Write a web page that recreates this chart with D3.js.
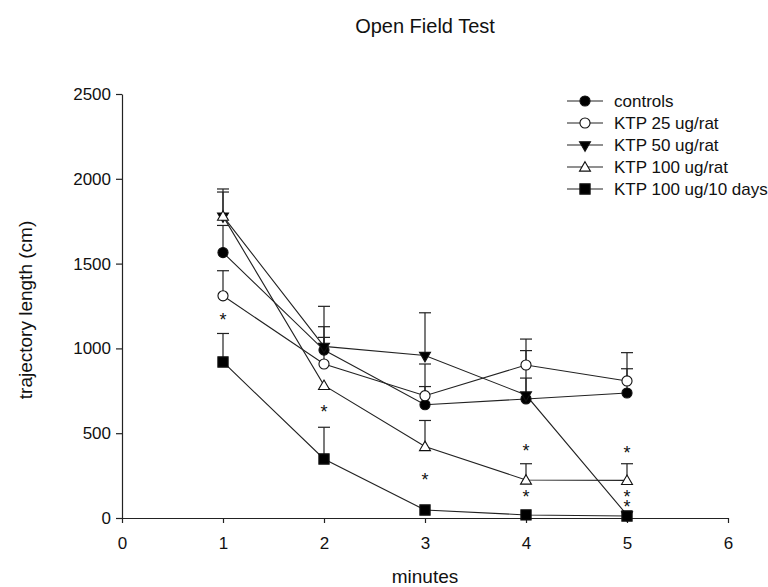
<!DOCTYPE html>
<html>
<head>
<meta charset="utf-8">
<script src="https://cdnjs.cloudflare.com/ajax/libs/d3/7.8.5/d3.min.js"></script>
<style>
  body { margin: 0; background: #fff; }
  text { font-family: "Liberation Sans", Arial, sans-serif; fill: #111; }
  .axis path, .axis line { stroke: #222; stroke-width: 1.2; }
  .axis text { font-size: 17px; font-family: "Liberation Sans", Arial, sans-serif; fill: #111; }
</style>
</head>
<body>
<svg id="chart" width="768" height="587"></svg>
<script>
// Data
const minutes = [1, 2, 3, 4, 5]
const seriesNames = ["controls", "KTP 25 ug/rat", "KTP 50 ug/rat", "KTP 100 ug/rat", "KTP 100 ug/10 days"]
const controls = [1565, 990, 668, 702, 737]
const ktp25 = [1310, 908, 721, 902, 808]
const ktp50 = [1780, 1012, 958, 725, 18]
const ktp100 = [1780, 782, 422, 224, 222]
const ktp100Days = [920, 348, 47, 18, 12]
// upper error bar ends
const controlsErr = [1725, 1128, 775, 825, 880]
const ktp25Err = [1458, 1065, 908, 1055, 975]
const ktp50Err = [1922, 1248, 1210, 987, null]
const ktp100Err = [1940, null, 575, 320, 320]
const ktp100DaysErr = [1088, 535, null, null, null]
// significance marks
const starX = [1, 2, 3, 4, 4, 5, 5, 5]
const starY = [1190, 648, 250, 420, 148, 408, 145, 86]
const xTicks = [0, 1, 2, 3, 4, 5, 6]
const yTicks = [0, 500, 1000, 1500, 2000, 2500]

const series = [
  {name: seriesNames[0], values: controls, err: controlsErr, shape: "circle", fill: "#000"},
  {name: seriesNames[1], values: ktp25, err: ktp25Err, shape: "circle", fill: "#fff"},
  {name: seriesNames[2], values: ktp50, err: ktp50Err, shape: "down", fill: "#000"},
  {name: seriesNames[3], values: ktp100, err: ktp100Err, shape: "up", fill: "#fff"},
  {name: seriesNames[4], values: ktp100Days, err: ktp100DaysErr, shape: "square", fill: "#000"}
]

// Dimensions
const plotLeft = 122, plotRight = 728, plotTop = 94, plotBottom = 518
const capWidth = 12

const svg = d3.select("#chart")
const x = d3.scaleLinear().domain([0, 6]).range([plotLeft, plotRight])
const y = d3.scaleLinear().domain([0, 2500]).range([plotBottom, plotTop])

svg.append("text")
  .attr("x", 425).attr("y", 33)
  .attr("text-anchor", "middle")
  .style("font-size", "20px")
  .text("Open Field Test")

svg.append("g")
  .attr("class", "axis")
  .attr("transform", `translate(0,${plotBottom})`)
  .call(d3.axisBottom(x).tickValues(xTicks).tickFormat(d3.format("d"))
    .tickSize(5).tickPadding(14).tickSizeOuter(0))

svg.append("g")
  .attr("class", "axis")
  .attr("transform", `translate(${plotLeft},0)`)
  .call(d3.axisLeft(y).tickValues(yTicks).tickFormat(d3.format("d"))
    .tickSize(6).tickPadding(5).tickSizeOuter(0))

svg.append("text")
  .attr("x", 425).attr("y", 583)
  .attr("text-anchor", "middle")
  .style("font-size", "19px")
  .text("minutes")

svg.append("text")
  .attr("transform", "translate(32,310) rotate(-90)")
  .attr("text-anchor", "middle")
  .style("font-size", "19px")
  .text("trajectory length (cm)")

const line = d3.line()
  .x(function(d, i) { return x(minutes[i]) })
  .y(function(d) { return y(d) })

// error bars
series.forEach(function(s) {
  let bars = s.err.map(function(e, i) { return {x: minutes[i], v: s.values[i], e: e} })
    .filter(function(d) { return d.e !== null })
  let g = svg.append("g").attr("stroke", "#222").attr("stroke-width", 1.2)
  g.selectAll("line.stem").data(bars).enter().append("line")
    .attr("x1", function(d) { return x(d.x) }).attr("x2", function(d) { return x(d.x) })
    .attr("y1", function(d) { return y(d.v) }).attr("y2", function(d) { return y(d.e) })
  g.selectAll("line.cap").data(bars).enter().append("line")
    .attr("x1", function(d) { return x(d.x) - capWidth / 2 }).attr("x2", function(d) { return x(d.x) + capWidth / 2 })
    .attr("y1", function(d) { return y(d.e) }).attr("y2", function(d) { return y(d.e) })
})

// lines
series.forEach(function(s) {
  svg.append("path")
    .datum(s.values)
    .attr("fill", "none")
    .attr("stroke", "#222")
    .attr("stroke-width", 1.1)
    .attr("d", line)
})

function symbolFor(shape) {
  if (shape === "circle") return d3.symbol(d3.symbolCircle, 80)
  if (shape === "square") return d3.symbol(d3.symbolSquare, 105)
  return d3.symbol(d3.symbolTriangle, 52)
}

function drawMarker(g, s, cx, cy) {
  g.append("path")
    .attr("d", symbolFor(s.shape)())
    .attr("transform", `translate(${cx},${cy})` + (s.shape === "down" ? " rotate(180)" : "") + (s.shape === "up" ? " translate(0,1)" : ""))
    .attr("fill", s.fill)
    .attr("stroke", "#111")
    .attr("stroke-width", 1.1)
}

series.forEach(function(s) {
  let g = svg.append("g")
  s.values.forEach(function(v, i) { drawMarker(g, s, x(minutes[i]), y(v)) })
})

// stars: ones that sit close together at the same minute share one text element
let starGroups = []
starX.forEach(function(sx, i) {
  let py = y(starY[i])
  let grp = starGroups.find(function(g) {
    return g.x === sx && Math.abs(g.ys[g.ys.length - 1] - py) < 16
  })
  if (grp) grp.ys.push(py)
  else starGroups.push({x: sx, ys: [py]})
})

const stars = svg.selectAll(".star")
  .data(starGroups)
  .enter().append("text")
  .attr("class", "star")
  .attr("text-anchor", "middle")
  .style("font-size", "18px")

stars.selectAll("tspan")
  .data(function(d) { return d.ys.map(function(py) { return {x: d.x, py: py} }) })
  .enter().append("tspan")
  .attr("x", function(d) { return x(d.x) })
  .attr("y", function(d) { return d.py + 10 })
  .text("*")

// legend
const legend = svg.append("g")
series.forEach(function(s, i) {
  let ly = 101 + i * 22
  legend.append("line")
    .attr("x1", 567).attr("x2", 603).attr("y1", ly).attr("y2", ly)
    .attr("stroke", "#222").attr("stroke-width", 1.2)
  drawMarker(legend, s, 585, ly)
  legend.append("text")
    .attr("x", 614).attr("y", ly + 6)
    .style("font-size", "17px")
    .text(s.name)
})
</script>
</body>
</html>
